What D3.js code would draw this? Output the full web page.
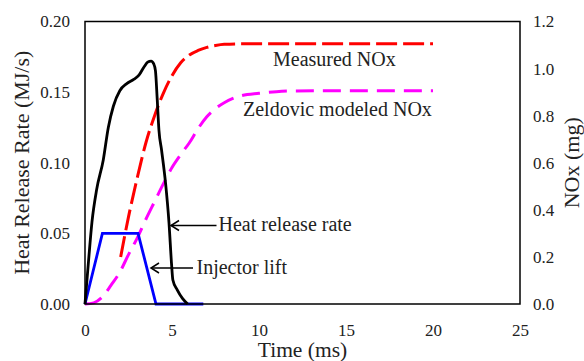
<!DOCTYPE html>
<html><head><meta charset="utf-8">
<script src="https://cdn.jsdelivr.net/npm/d3@7"></script>
<style>
html,body{margin:0;padding:0;background:#fff;}
svg text{font-family:"Liberation Serif","DejaVu Serif",serif;fill:#222;}
</style></head>
<body><svg id="c" width="584" height="361"></svg>
<script>
// ---- data ----
const xTicks = [0, 5, 10, 15, 20, 25];
const yLeftTicks = [0, 0.05, 0.10, 0.15, 0.20];
const yRightTicks = [0, 0.2, 0.4, 0.6, 0.8, 1.0, 1.2];

const hrrTime = [0, 0.2, 0.4, 0.67, 1.05, 1.34, 1.63, 2.0, 2.4, 2.8, 3.1, 3.4, 3.6, 3.8, 3.95, 4.05, 4.15, 4.25, 4.4, 4.63, 4.83, 4.97, 5.05, 5.3, 5.6, 5.9];
const hrrValue = [0, 0.03, 0.058, 0.081, 0.102, 0.125, 0.14, 0.151, 0.156, 0.159, 0.162, 0.168, 0.1712, 0.172, 0.170, 0.165, 0.145, 0.123, 0.109, 0.0855, 0.057, 0.029, 0.017, 0.010, 0.004, 0];

const liftTime = [0, 1.0, 3.05, 4.08, 6.8];
const liftValue = [0, 0.05, 0.05, 0, 0];

const measTime = [2.05, 2.5, 3.0, 3.5, 4.0, 4.5, 5.0, 5.5, 6.0, 6.5, 7.0, 7.5, 8.0, 9.0, 12.0, 16.0, 20.0];
const measNOx = [0.2, 0.37, 0.535, 0.685, 0.8, 0.895, 0.97, 1.025, 1.058, 1.077, 1.09, 1.098, 1.103, 1.105, 1.105, 1.105, 1.105];

const zeldTime = [0, 0.5, 1.0, 1.5, 2.0, 2.5, 3.0, 3.5, 4.0, 4.5, 5.0, 5.5, 6.0, 6.5, 7.0, 7.5, 8.0, 8.5, 9.0, 10.0, 11.0, 12.0, 15.0, 20.0];
const zeldNOx = [0, 0.005, 0.03, 0.08, 0.135, 0.21, 0.28, 0.36, 0.435, 0.51, 0.58, 0.635, 0.685, 0.745, 0.795, 0.83, 0.855, 0.873, 0.885, 0.895, 0.902, 0.905, 0.906, 0.906];

// ---- layout ----
const L = 85, R = 520, T = 21.5, B = 304;
const svg = d3.select("#c");
const x = d3.scaleLinear().domain([0, 25]).range([L, R]);
const yL = d3.scaleLinear().domain([0, 0.2]).range([B, T]);
const yR = d3.scaleLinear().domain([0, 1.2]).range([B, T]);

const zip = (a, b) => a.map((v, i) => [v, b[i]]);

// axes (labels only, no tick marks)
const gx = svg.append("g").attr("transform", `translate(0,${B})`)
  .call(d3.axisBottom(x).tickValues(xTicks).tickFormat(d3.format("d")).tickSize(0).tickPadding(20));
const gl = svg.append("g").attr("transform", `translate(${L},0)`)
  .call(d3.axisLeft(yL).tickValues(yLeftTicks).tickFormat(d3.format(".2f")).tickSize(0).tickPadding(15));
const gr = svg.append("g").attr("transform", `translate(${R},0)`)
  .call(d3.axisRight(yR).tickValues(yRightTicks).tickFormat(d3.format(".1f")).tickSize(0).tickPadding(13));
[gx, gl, gr].forEach(g => {
  g.select(".domain").remove();
  g.selectAll("text").attr("font-size", 17).attr("fill", "#222")
    .style("font-family", '"Liberation Serif","DejaVu Serif",serif');
});

// lines
const lineL = d3.line().x(d => x(d[0])).y(d => yL(d[1]));
const lineR = d3.line().x(d => x(d[0])).y(d => yR(d[1])).curve(d3.curveMonotoneX);
const lineLs = d3.line().x(d => x(d[0])).y(d => yL(d[1])).curve(d3.curveMonotoneX);

svg.append("path").attr("d", lineR(zip(zeldTime, zeldNOx)))
  .attr("fill", "none").attr("stroke", "#ff00ff").attr("stroke-width", 3).attr("stroke-dasharray", "18,9");
svg.append("path").attr("d", lineR(zip(measTime, measNOx)))
  .attr("fill", "none").attr("stroke", "#ff0000").attr("stroke-width", 3).attr("stroke-dasharray", "21,6");
svg.append("path").attr("d", lineL(zip(liftTime, liftValue)))
  .attr("fill", "none").attr("stroke", "#0000ff").attr("stroke-width", 2.8).attr("stroke-linejoin", "miter");
svg.append("path").attr("d", lineLs(zip(hrrTime, hrrValue)))
  .attr("fill", "none").attr("stroke", "#000").attr("stroke-width", 2.8);

// frame
svg.append("rect").attr("x", L).attr("y", T).attr("width", R - L).attr("height", B - T)
  .attr("fill", "none").attr("stroke", "#000").attr("stroke-width", 1.5);

// axis titles
svg.append("text").attr("x", (L + R) / 2).attr("y", 357).attr("text-anchor", "middle")
  .attr("font-size", 21.5).text("Time (ms)");
svg.append("text").attr("transform", `translate(29,${(T + B) / 2}) rotate(-90)`).attr("text-anchor", "middle")
  .attr("font-size", 22).text("Heat Release Rate (MJ/s)");
svg.append("text").attr("transform", `translate(579,${(T + B) / 2}) rotate(-90)`).attr("text-anchor", "middle")
  .attr("font-size", 22).text("NOx (mg)");

// annotations
svg.append("text").attr("x", 273).attr("y", 66).attr("font-size", 20).text("Measured NOx");
svg.append("text").attr("x", 243).attr("y", 116).attr("font-size", 20).text("Zeldovic modeled NOx");

function arrow(x1, x2, yy) {
  const g = svg.append("g").attr("stroke", "#000").attr("stroke-width", 1.5).attr("fill", "none");
  g.append("line").attr("x1", x1).attr("x2", x2).attr("y1", yy).attr("y2", yy);
  g.append("path").attr("d", `M${x1 + 8},${yy - 5} L${x1},${yy} L${x1 + 8},${yy + 5}`);
}
arrow(171, 216.5, 225.5);
svg.append("text").attr("x", 218.5).attr("y", 231).attr("font-size", 20).text("Heat release rate");
arrow(151, 193, 268);
svg.append("text").attr("x", 196.5).attr("y", 273.5).attr("font-size", 20).text("Injector lift");
</script></body></html>
